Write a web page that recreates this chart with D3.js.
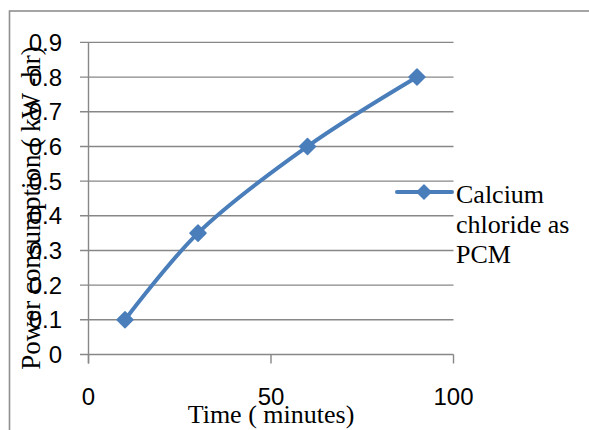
<!DOCTYPE html>
<html><head><meta charset="utf-8">
<script src="https://cdn.jsdelivr.net/npm/d3@7"></script>
<style>html,body{margin:0;padding:0;background:#fff;}svg{display:block;}</style>
</head><body>
<script>
const timeMinutes = [10, 30, 60, 90];
const powerKWhr = [0.1, 0.35, 0.6, 0.8];
const seriesName = ["Calcium", "chloride as", "PCM"];
const xTicks = [0, 50, 100];
const yTicks = [0, 0.1, 0.2, 0.3, 0.4, 0.5, 0.6, 0.7, 0.8, 0.9];
const xTitle = "Time ( minutes)";
const yTitle = "Power consumption ( kW -hr)";

const W = 589, H = 430;
const svg = d3.select("body").append("svg").attr("width", W).attr("height", H);

svg.append("rect").attr("x", 9.5).attr("y", 11).attr("width", 700).attr("height", 700)
  .attr("fill", "none").attr("stroke", "#8f8f8f").attr("stroke-width", 1.6);

const x = d3.scaleLinear().domain([0, 100]).range([88.5, 453.5]);
const y = d3.scaleLinear().domain([0, 0.9]).range([354.5, 42.4]);
const grid = "#878787";

// gridlines + y ticks
svg.append("g").selectAll("line").data(yTicks).join("line")
  .attr("x1", 80).attr("x2", x(100)).attr("y1", d => y(d)).attr("y2", d => y(d))
  .attr("stroke", grid).attr("stroke-width", 1.4);
// y axis line
svg.append("line").attr("x1", x(0)).attr("x2", x(0)).attr("y1", y(0.9)).attr("y2", y(0) + 9)
  .attr("stroke", grid).attr("stroke-width", 1.4);
// x ticks
svg.append("g").selectAll("line").data(xTicks).join("line")
  .attr("x1", d => x(d)).attr("x2", d => x(d)).attr("y1", y(0)).attr("y2", y(0) + 9)
  .attr("stroke", grid).attr("stroke-width", 1.4);

const tickFont = "'Liberation Sans', Arial, sans-serif";
svg.append("g").selectAll("text").data(yTicks).join("text")
  .attr("x", 62).attr("y", d => y(d)).attr("dy", "0.36em").attr("text-anchor", "end")
  .attr("font-family", tickFont).attr("font-size", 24).attr("fill", "#000")
  .text(d => d3.format("~g")(d));
svg.append("g").selectAll("text").data(xTicks).join("text")
  .attr("x", d => x(d)).attr("y", 405).attr("text-anchor", "middle")
  .attr("font-family", tickFont).attr("font-size", 24).attr("fill", "#000")
  .text(d => d);

const serif = "'Liberation Serif', 'Times New Roman', serif";
svg.append("text").attr("x", 271).attr("y", 423).attr("text-anchor", "middle")
  .attr("font-family", serif).attr("font-size", 26).text(xTitle);
svg.append("text").attr("transform", "translate(40,208) rotate(-90)").attr("text-anchor", "middle")
  .attr("font-family", serif).attr("font-size", 27).text(yTitle);

const color = "#4a7ebb";
const data = timeMinutes.map((t, i) => ({t, v: powerKWhr[i]}));
svg.append("path").datum(data)
  .attr("d", d3.line().x(d => x(d.t)).y(d => y(d.v)).curve(d3.curveCatmullRom.alpha(0.5)))
  .attr("fill", "none").attr("stroke", color).attr("stroke-width", 4).attr("stroke-linecap", "round");
const diamond = (cx, cy, r) => `M${cx},${cy - r}L${cx + r},${cy}L${cx},${cy + r}L${cx - r},${cy}Z`;
svg.append("g").selectAll("path").data(data).join("path")
  .attr("d", d => diamond(x(d.t), y(d.v), 8))
  .attr("fill", color).attr("stroke", color).attr("stroke-width", 1.5).attr("stroke-linejoin", "round");

// legend
svg.append("line").attr("x1", 397).attr("x2", 452).attr("y1", 192).attr("y2", 192)
  .attr("stroke", color).attr("stroke-width", 4).attr("stroke-linecap", "round");
svg.append("path").attr("d", diamond(424, 192, 7)).attr("fill", color)
  .attr("stroke", color).attr("stroke-width", 1.5).attr("stroke-linejoin", "round");
svg.append("g").selectAll("text").data(seriesName).join("text")
  .attr("x", 456).attr("y", (d, i) => 203 + i * 30)
  .attr("font-family", serif).attr("font-size", 26).text(d => d);
</script>
</body></html>
